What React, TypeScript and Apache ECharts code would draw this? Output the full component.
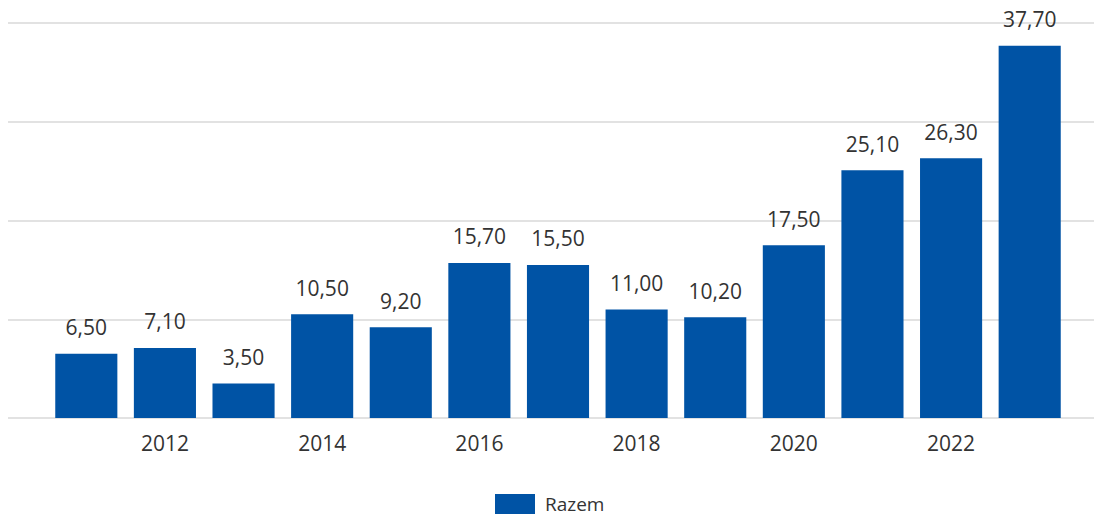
import React, { useEffect, useRef } from "react";
import * as echarts from "echarts";

const categories = ["2011", "2012", "2013", "2014", "2015", "2016", "2017", "2018", "2019", "2020", "2021", "2022", "2023"];
const values = [6.5, 7.1, 3.5, 10.5, 9.2, 15.7, 15.5, 11.0, 10.2, 17.5, 25.1, 26.3, 37.7];
const seriesName = "Razem";
const yMin = 0;
const yMax = 40;
const yInterval = 10;

const FONT = "'Open Sans', 'Noto Sans', sans-serif";

export default function App() {
  const ref = useRef<HTMLDivElement>(null);
  useEffect(() => {
    if (!ref.current) return;
    const chart = echarts.init(ref.current, null, { renderer: "svg" });
    chart.setOption({
      animation: false,
      backgroundColor: "#ffffff",
      grid: [
        { left: 8, right: 0, top: 23, bottom: 101, containLabel: false },
        { left: 47, right: 25, top: 23, bottom: 101, containLabel: false },
      ],
      legend: {
        bottom: 0,
        left: 490,
        itemWidth: 40,
        itemHeight: 20,
        itemGap: 10,
        icon: "rect",
        textStyle: { fontFamily: FONT, fontSize: 19, color: "#333333", padding: [0, 0, 0, 5] },
        data: [seriesName],
      },
      xAxis: [
        {
          type: "value",
          gridIndex: 0,
          show: false,
          min: 0,
          max: 1,
        },
        {
          type: "category",
          gridIndex: 1,
          data: categories,
          axisLine: { show: false },
          axisTick: { show: false },
          axisLabel: {
            interval: (index: number) => index % 2 === 1,
            margin: 14,
            fontFamily: FONT,
            fontSize: 21,
            color: "#333333",
          },
        },
      ],
      yAxis: [
        {
          type: "value",
          gridIndex: 0,
          min: yMin,
          max: yMax,
          interval: yInterval,
          axisLabel: { show: false },
          axisLine: { show: false },
          axisTick: { show: false },
          splitLine: { show: true, lineStyle: { color: "#d9d9d9", width: 1.5 } },
        },
        {
          type: "value",
          gridIndex: 1,
          min: yMin,
          max: yMax,
          interval: yInterval,
          axisLabel: { show: false },
          axisLine: { show: false },
          axisTick: { show: false },
          splitLine: { show: false },
        },
      ],
      series: [
        {
          name: seriesName,
          type: "bar",
          xAxisIndex: 1,
          yAxisIndex: 1,
          data: values,
          barCategoryGap: "21%",
          itemStyle: { color: "#0053a5" },
          label: {
            show: true,
            position: "top",
            distance: 16,
            fontFamily: FONT,
            fontSize: 21,
            color: "#333333",
            formatter: (p: any) => Number(p.value).toFixed(2).replace(".", ","),
          },
        },
      ],
    });
    return () => chart.dispose();
  }, []);
  return (
    <div
      ref={ref}
      style={{ position: "fixed", left: 0, top: 0, width: 1094, height: 519 }}
    />
  );
}
